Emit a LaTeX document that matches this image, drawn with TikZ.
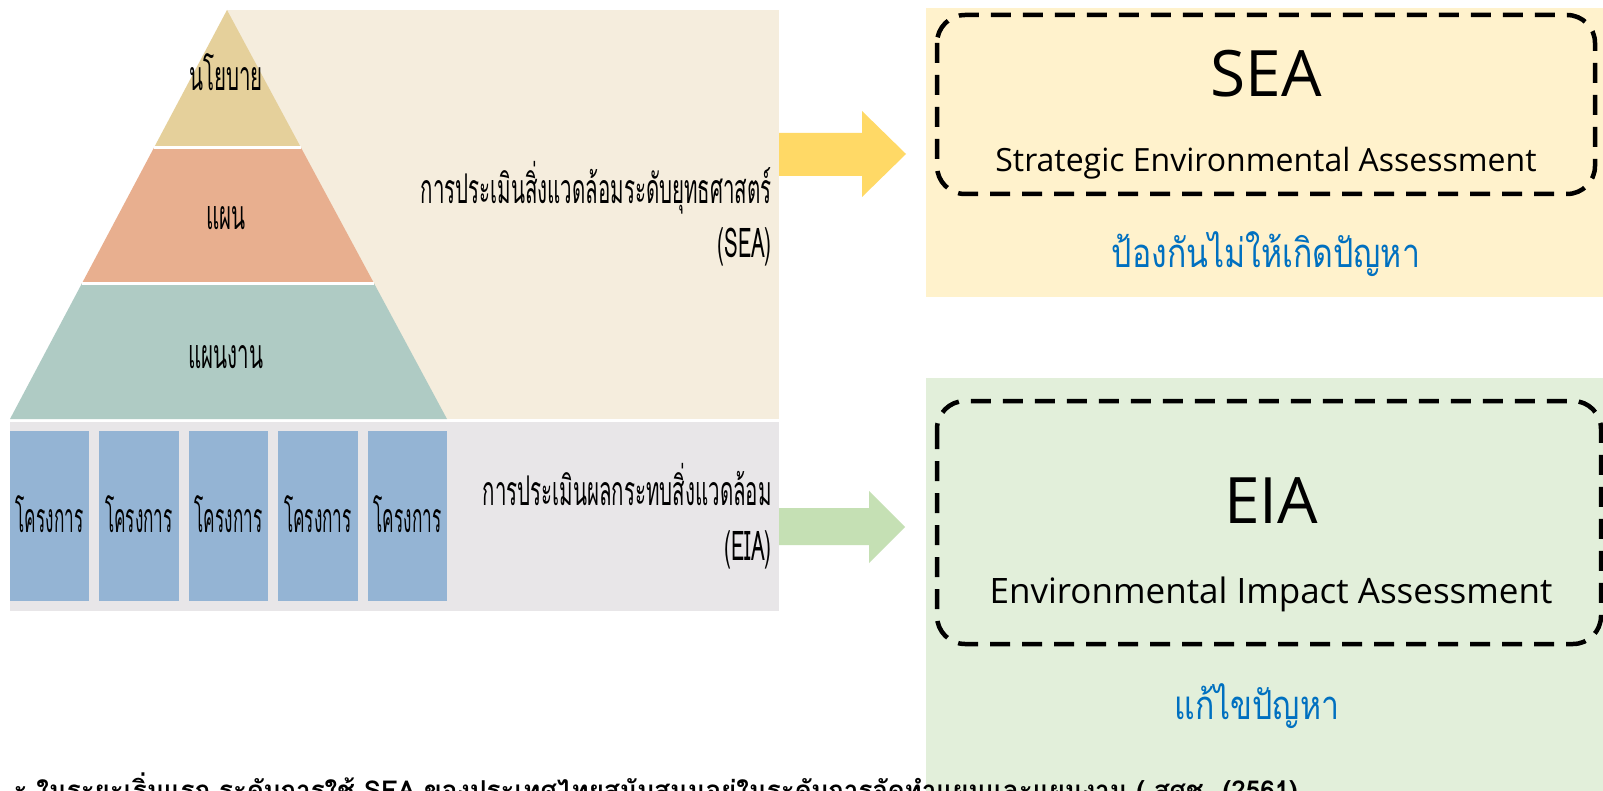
\documentclass[tikz,border=0pt]{standalone}
\usepackage{fontspec}
\setmainfont{Open Sans}
\newfontfamily\thaiN[Script=Thai]{Loma}
\newfontfamily\thaiC[Script=Thai,FakeStretch=0.5]{Loma}
\newfontfamily\thaiP[Script=Thai,FakeStretch=0.42]{Loma}
\newfontfamily\thaiB[Script=Thai,FakeStretch=0.8]{Loma}
\definecolor{beigebg}{RGB}{245,237,221}
\definecolor{graybg}{RGB}{232,230,232}
\definecolor{tanL}{RGB}{229,208,155}
\definecolor{salmonL}{RGB}{232,175,143}
\definecolor{tealL}{RGB}{175,203,196}
\definecolor{projB}{RGB}{148,180,212}
\definecolor{seaP}{RGB}{255,242,204}
\definecolor{eiaP}{RGB}{226,239,218}
\definecolor{yelA}{RGB}{255,217,102}
\definecolor{grnA}{RGB}{197,224,180}
\definecolor{blueT}{RGB}{0,112,192}
\tikzset{
  lbl/.style={inner sep=0pt, anchor=base},
  lblR/.style={inner sep=0pt, anchor=base east},
  pyr/.style={font=\thaiC\fontsize{41}{45}\selectfont},
  projlbl/.style={font=\thaiP\fontsize{41}{45}\selectfont},
  dbox/.style={draw=black, line width=4.5pt, dash pattern=on 20pt off 12pt, rounded corners=28pt},
  big/.style={font=\fontsize{64}{70}\selectfont},
  blue/.style={text=blueT, font=\thaiB\fontsize{40}{46}\selectfont},
}
\begin{document}
\begin{tikzpicture}[x=1pt,y=-1pt]
\useasboundingbox (0,0) rectangle (1603,791);
\clip (0,0) rectangle (1603,791);
\fill[white] (0,0) rectangle (1603,791);
% left panels
\fill[beigebg] (227,10) rectangle (779,419);
\fill[graybg] (10,422) rectangle (779,611);
% pyramid
\coordinate (apex) at (227,10);
\fill[tanL] (apex) -- (301.2,148) -- (153.8,148) -- cycle;
\fill[salmonL] (153.8,148) -- (301.2,148) -- (374.4,284) -- (81.6,284) -- cycle;
\fill[tealL] (81.6,284) -- (374.4,284) -- (447,419) -- (10,419) -- cycle;
\draw[white, line width=3pt] (153.8,148) -- (301.2,148);
\draw[white, line width=3pt] (81.6,284) -- (374.4,284);
\node[lbl,pyr] (policy) at (226,91) {นโยบาย};
\node[lbl,pyr] (plan) at (226,230) {แผน};
\node[lbl,pyr] (program) at (226,368) {แผนงาน};
% projects
\foreach \i/\xa/\xb in {1/10/89, 2/99/179, 3/189/268, 4/278/358, 5/368/447}{
  \fill[projB] (\xa,431) rectangle (\xb,601);
  \node[lbl,projlbl] (proj\i) at ({(\xa+\xb)/2},532) {โครงการ};
}
% left texts
\node[lblR,pyr] (seaTh) at (772,204) {การประเมินสิ่งแวดล้อมระดับยุทธศาสตร์};
\node[lblR,pyr] (seaAb) at (772,258) {(SEA)};
\node[lblR,pyr] (eiaTh) at (772,505) {การประเมินผลกระทบสิ่งแวดล้อม};
\node[lblR,pyr] (eiaAb) at (772,560) {(EIA)};
% arrows
\fill[yelA] (779,133) -- (862,133) -- (862,111) -- (906,154) -- (862,197) -- (862,176) -- (779,176) -- cycle;
\fill[grnA] (779,508) -- (869,508) -- (869,491) -- (905,527) -- (869,563) -- (869,545) -- (779,545) -- cycle;
% right panels
\fill[seaP] (926,8) rectangle (1603,297);
\fill[eiaP] (926,378) rectangle (1603,791);
\draw[dbox] (937,15) rectangle (1595,194);
\draw[dbox] (937,401) rectangle (1601,644);
\node[lbl,big] (sea) at (1266,97) {SEA};
\node[lbl,font=\fontsize{32}{37}\selectfont] (seaFull) at (1266,172) {Strategic Environmental Assessment};
\node[lbl,blue] (seaGoal) at (1266,268) {ป้องกันไม่ให้เกิดปัญหา};
\node[lbl,big] (eia) at (1271,523) {EIA};
\node[lbl,font=\fontsize{35}{40}\selectfont] (eiaFull) at (1271,603) {Environmental Impact Assessment};
\node[lbl,blue] (eiaGoal) at (1257,719) {แก้ไขปัญหา};
% bottom note (clipped)
\node[inner sep=0pt, anchor=base east, font=\thaiN\bfseries\fontsize{26}{30}\selectfont] (note) at (1298,799) {ะ ในระยะเริ่มแรก ระดับการใช้ SEA ของประเทศไทยสนับสนุนอยู่ในระดับการจัดทำแผนและแผนงาน ( สศช. (2561)};
\end{tikzpicture}
\end{document}
